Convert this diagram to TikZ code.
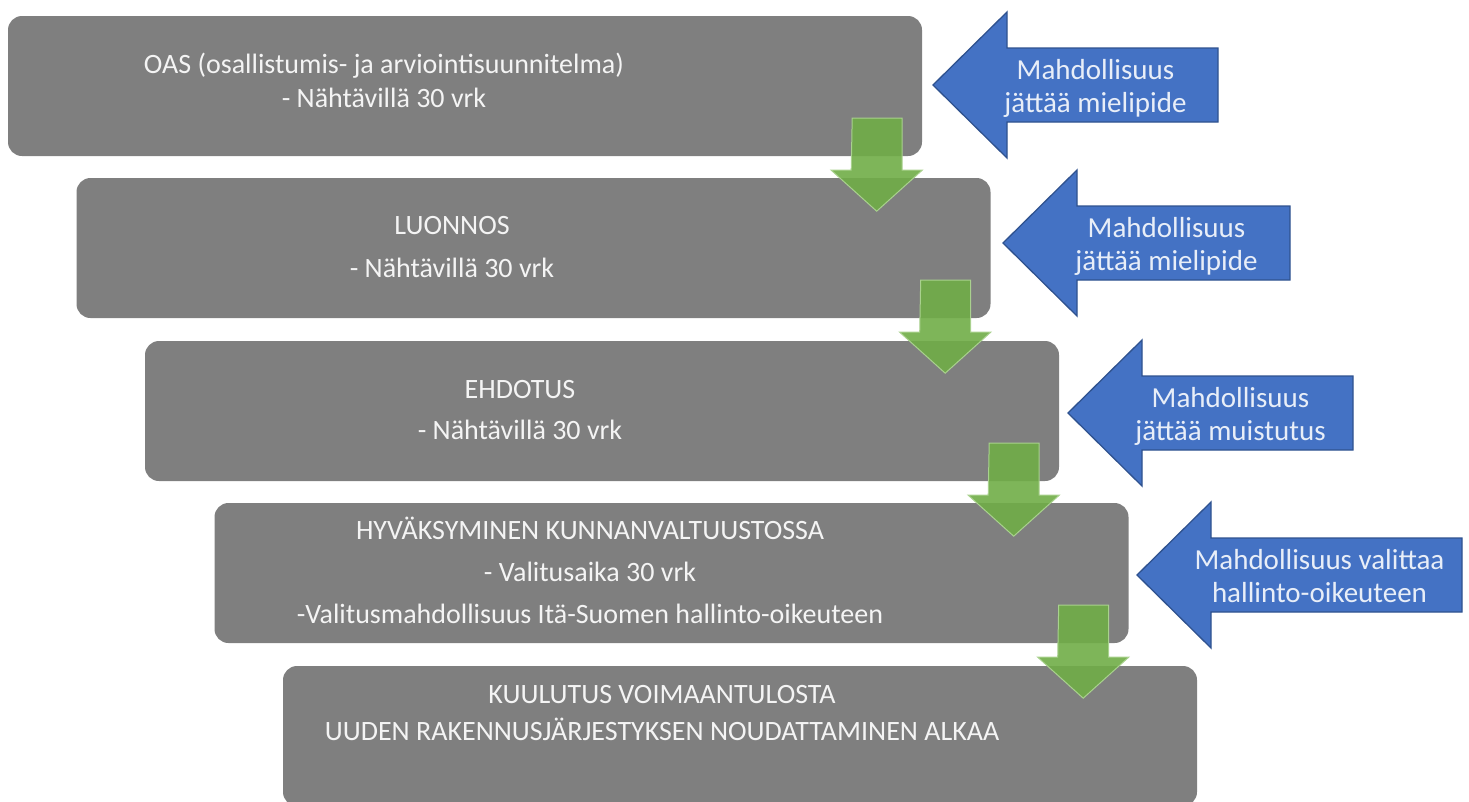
\documentclass[tikz,border=0pt]{standalone}
\usepackage{fontspec}
\setmainfont{Carlito}
\usepackage{tikz}
\usetikzlibrary{positioning}

\definecolor{stagegray}{HTML}{7F7F7F}
\definecolor{stagetxt}{HTML}{F4F4F4}
\definecolor{noteblue}{HTML}{4472C4}
\definecolor{noteline}{HTML}{2F528F}
\definecolor{notetxt}{HTML}{E8EEF8}
\definecolor{stepgreen}{HTML}{70AD47}
\definecolor{stepline}{HTML}{A9D18E}

\begin{document}
\begin{tikzpicture}[x=1pt,y=-1pt,
    stage/.style={fill=stagegray, rounded corners=14pt, minimum width=914pt,
        minimum height=140pt, inner sep=0pt},
    stagetext/.style={text=stagetxt, font=\fontsize{28}{30}\selectfont,
        anchor=base, inner sep=0pt},
    downarrow/.style={fill=stepgreen, fill opacity=0.9, draw=stepline, line width=1pt},
    leftarrow/.style={fill=noteblue, draw=noteline, line width=1.3pt},
    notetext/.style={text=notetxt, font=\fontsize{29}{33}\selectfont,
        anchor=base, inner sep=0pt}]

  \useasboundingbox (0,0) rectangle (1469,801);
  \clip (0,0) rectangle (1469,801);

  % the five stages
  \node[stage] (oas)  at (465,86)    {};
  \node[stage] (luon) at (533.5,248) {};
  \node[stage] (ehd)  at (602,411)   {};
  \node[stage] (hyv)  at (671.5,573) {};
  \node[stage] (kuul) at (740,736)   {};

  \node[stagetext] (oas-a)  at (384,73)  {OAS (osallistumis- ja arviointisuunnitelma)};
  \node[stagetext] (oas-b)  at (384,107) {- Nähtävillä 30 vrk};
  \node[stagetext] (luon-a) at (452,234) {LUONNOS};
  \node[stagetext] (luon-b) at (452,277) {- Nähtävillä 30 vrk};
  \node[stagetext] (ehd-a)  at (520,398) {EHDOTUS};
  \node[stagetext] (ehd-b)  at (520,439) {- Nähtävillä 30 vrk};
  \node[stagetext] (hyv-a)  at (590,539) {HYVÄKSYMINEN KUNNANVALTUUSTOSSA};
  \node[stagetext] (hyv-b)  at (590,581) {- Valitusaika 30 vrk};
  \node[stagetext] (hyv-c)  at (590,623) {-Valitusmahdollisuus Itä-Suomen hallinto-oikeuteen};
  \node[stagetext] (kuul-a) at (662,703) {KUULUTUS VOIMAANTULOSTA};
  \node[stagetext] (kuul-b) at (662,740) {UUDEN RAKENNUSJÄRJESTYKSEN NOUDATTAMINEN ALKAA};

  % green arrows from one stage to the next
  \foreach \a in {oas,luon,ehd,hyv}
    \draw[downarrow] ([shift={(-70,-38)}]\a.south east) -- ++(50,0) -- ++(0,52)
      -- ++(20,0) -- ++(-45.5,41) -- ++(-45.5,-41) -- ++(20,0) -- cycle;

  % blue arrows with the possibilities
  \foreach \tx/\ty/\rx/\linea/\lineb [count=\i] in
      {933/85/1218/Mahdollisuus/jättää mielipide,
       1003/243/1290/Mahdollisuus/jättää mielipide,
       1068/413/1353/Mahdollisuus/jättää muistutus,
       1137/575/1462/Mahdollisuus valittaa/hallinto-oikeuteen}
  {
    \draw[leftarrow] (\tx,\ty) -- ++(74,-73) -- ++(0,36) -- (\rx,\ty-37)
      -- (\rx,\ty+37) -- (\tx+74,\ty+37) -- ++(0,36) -- cycle;
    \node[notetext] (note\i-a) at ({(\tx+74+\rx)/2-17},\ty-6) {\linea};
    \node[notetext] (note\i-b) at ({(\tx+74+\rx)/2-17},\ty+27) {\lineb};
  }
\end{tikzpicture}
\end{document}
